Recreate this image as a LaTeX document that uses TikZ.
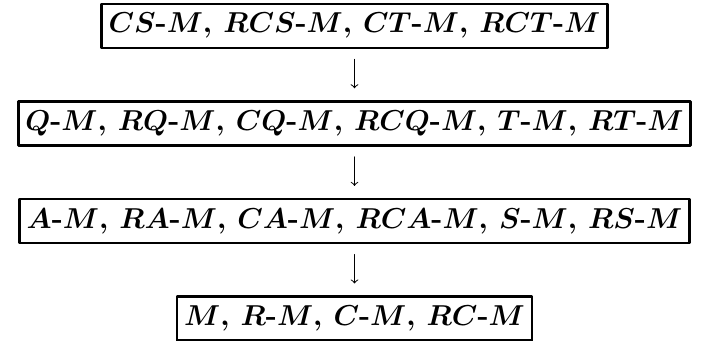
\documentclass[tikz,border=0pt]{standalone}
\usetikzlibrary{positioning}
\begin{document}
\begin{tikzpicture}[>=to, line join=round, line cap=round, font=\fontsize{14.85}{18}\selectfont\bfseries\boldmath]
	\tikzset{famille/.style={draw, line width=1.3pt, inner sep=3.5pt, text height=11pt, text depth=4pt}}
	\tikzset{fleche/.style={->, line width=0.5pt, shorten <=5pt, shorten >=6pt}}
	\def\fm#1{#1\mbox{-}M}
	\def\sep{{,}\ }
	\useasboundingbox (0,0) rectangle (353.5pt,-170.5pt);
	\node[famille] (ct) at (177.25pt,-13pt) {$\fm{CS}\sep\fm{RCS}\sep\fm{CT}\sep\fm{RCT}$};
	\node[famille, below=25.5pt of ct] (qt) {$\fm{Q}\sep\fm{RQ}\sep\fm{CQ}\sep\fm{RCQ}\sep\fm{T}\sep\fm{RT}$};
	\node[famille, below=25.5pt of qt] (as) {$\fm{A}\sep\fm{RA}\sep\fm{CA}\sep\fm{RCA}\sep\fm{S}\sep\fm{RS}$};
	\node[famille, below=25.5pt of as] (m) {$M\sep\fm{R}\sep\fm{C}\sep\fm{RC}$};
	\foreach \a/\b in {ct/qt, qt/as, as/m} \draw[fleche] (\a) -- (\b);
\end{tikzpicture}
\end{document}
